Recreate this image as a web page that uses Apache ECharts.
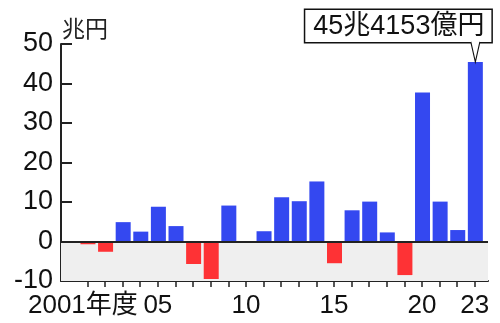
<!DOCTYPE html>
<html>
<head>
<meta charset="utf-8">
<script src="https://cdn.jsdelivr.net/npm/echarts@6/dist/echarts.min.js"></script>
<style>
html,body{margin:0;padding:0;background:#fff;}
#chart{width:500px;height:323px;}
</style>
</head>
<body>
<div id="chart"></div>
<script>
// Fiscal years (年度)
const years = [2001,2002,2003,2004,2005,2006,2007,2008,2009,2010,2011,2012,2013,2014,2015,2016,2017,2018,2019,2020,2021,2022,2023];
// Values in 兆円
const values = [-0.7,-2.6,4.9,2.5,8.8,3.9,-5.7,-9.5,9.1,-0.3,2.6,11.2,10.2,15.2,-5.5,7.9,10.1,2.3,-8.5,37.7,10.1,2.9,45.4153];
// X tick labels
const xLabelValues = [2001,2005,2010,2015,2020,2023];
const xLabelTexts = ['2001年度','05','10','15','20','23'];
// Y axis
const yMin = -10, yMax = 50, yStep = 10;
const unitName = '兆円';
const calloutText = '45兆4153億円';

const BLUE = '#3448f0', RED = '#fe3235';
const FONT = '"Liberation Sans", "Noto Sans CJK JP", sans-serif';

const lastIdx = values.length - 1;
const barData = years.map((y, i) => {
  const item = { value: [y, values[i]] };
  if (i === lastIdx) {
    item.label = {
      show: true,
      position: 'top',
      distance: 20,
      offset: [-77, 0],
      formatter: calloutText,
      fontFamily: FONT,
      fontSize: 27,
      color: '#111',
      backgroundColor: '#fff',
      borderColor: '#111',
      borderWidth: 1.5,
      padding: [3, 7, 2, 8]
    };
  }
  return item;
});

const chart = echarts.init(document.getElementById('chart'), null, { renderer: 'canvas' });
chart.setOption({
  animation: false,
  backgroundColor: '#fff',
  grid: { left: 61, right: 12, top: 44, bottom: 42, containLabel: false, outerBoundsMode: 'none' },
  xAxis: {
    type: 'value',
    min: 1999.5,
    max: 2023.75,
    splitLine: { show: false },
    axisLine: { show: true, onZero: false, lineStyle: { color: '#222', width: 2 } },
    axisTick: { show: true, inside: false, length: 6, customValues: years, lineStyle: { color: '#222', width: 1.5 } },
    axisLabel: {
      show: true,
      customValues: xLabelValues,
      margin: 12,
      fontFamily: FONT,
      fontSize: 26,
      color: '#111',
      formatter: function (v) {
        const i = xLabelValues.indexOf(Math.round(v));
        return i >= 0 ? (i === 0 ? '{a|' + xLabelTexts[i] + '}' : xLabelTexts[i]) : '';
      },
      rich: { a: { fontFamily: FONT, fontSize: 26, color: '#111', padding: [0, 9, 0, 0] } }
    }
  },
  yAxis: {
    type: 'value',
    min: yMin,
    max: yMax,
    interval: yStep,
    name: unitName,
    nameLocation: 'end',
    nameGap: 2,
    nameTextStyle: { fontFamily: FONT, fontSize: 23, color: '#222', align: 'left', verticalAlign: 'bottom', padding: [0, 0, 0, 1] },
    splitLine: { show: false },
    axisLine: { show: true, lineStyle: { color: '#222', width: 2 } },
    axisTick: { show: true, inside: true, length: 11, lineStyle: { color: '#222', width: 2 } },
    axisLabel: { margin: 8, fontFamily: FONT, fontSize: 27, color: '#111' }
  },
  series: [
    {
      type: 'bar',
      data: [],
      z: 1,
      silent: true,
      markArea: {
        silent: true,
        itemStyle: { color: '#efefef' },
        data: [[{ yAxis: yMin }, { yAxis: 0 }]]
      }
    },
    {
      type: 'bar',
      z: 3,
      barWidth: 15,
      data: barData,
      itemStyle: {
        color: function (p) { return p.value[1] < 0 ? RED : BLUE; }
      },
      markLine: {
        silent: true,
        symbol: 'none',
        label: { show: false },
        lineStyle: { color: '#222', width: 2, type: 'solid' },
        data: [{ yAxis: 0 }]
      },
      markPoint: {
        silent: true,
        symbol: 'path://M0,0 L5,20 L10,0',
        symbolSize: [9, 20],
        symbolOffset: [0, '-50%'],
        itemStyle: { color: '#fff', borderColor: '#111', borderWidth: 1.5 },
        label: { show: false },
        data: [{ coord: [years[lastIdx], values[lastIdx]] }]
      }
    }
  ]
});
</script>
</body>
</html>
